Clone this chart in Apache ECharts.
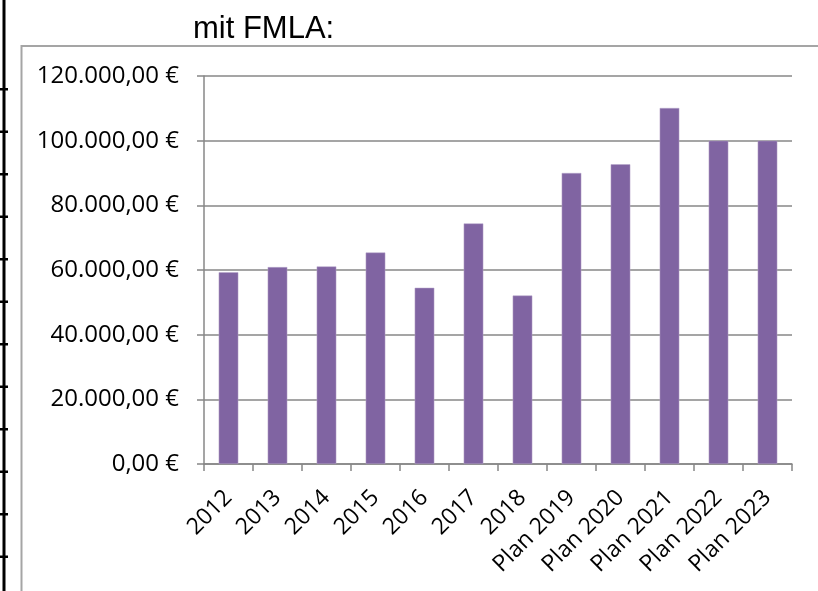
<!DOCTYPE html>
<html>
<head>
<meta charset="utf-8">
<script src="https://cdn.jsdelivr.net/npm/echarts@6/dist/echarts.min.js"></script>
<style>
  html, body { margin: 0; padding: 0; background: #fff; }
  #chart { width: 818px; height: 591px; }
</style>
</head>
<body>
<div id="chart"></div>
<script>
// Daten
var categories = ['2012', '2013', '2014', '2015', '2016', '2017', '2018',
  'Plan 2019', 'Plan 2020', 'Plan 2021', 'Plan 2022', 'Plan 2023'];
var values = [59300, 60900, 61100, 65400, 54500, 74400, 52100,
  90000, 92700, 110100, 100000, 100000];
var yTicks = [0, 20000, 40000, 60000, 80000, 100000, 120000];

// 120000 -> "120.000,00 €"
function euro(v) {
  var s = String(Math.round(v)).replace(/\B(?=(\d{3})+(?!\d))/g, '.');
  return s + ',00 €';
}

// schwarze Linie am linken Rand mit Strichen
var deco = [
  { type: 'rect', shape: { x: 2.5, y: 0, width: 3, height: 591 }, style: { fill: '#000' } }
];
for (var i = 0; i < 12; i++) {
  deco.push({ type: 'rect', shape: { x: 0, y: 88 + i * 42.5, width: 8, height: 2.5 }, style: { fill: '#000' } });
}
// Diagrammrahmen
deco.push({
  type: 'rect',
  shape: { x: 21.5, y: 46, width: 820, height: 600 },
  style: { fill: 'none', stroke: '#a5a5a5', lineWidth: 2 }
});

var chart = echarts.init(document.getElementById('chart'));
chart.setOption({
  animation: false,
  title: {
    text: 'mit FMLA:',
    left: 188,
    top: 9,
    textStyle: { fontFamily: 'Liberation Sans', fontSize: 31, fontWeight: 'normal', color: '#000' }
  },
  graphic: deco,
  grid: { left: 204, right: 26, top: 76, bottom: 127 },
  xAxis: {
    type: 'category',
    data: categories,
    axisLine: { lineStyle: { color: '#878787', width: 1.5 } },
    axisTick: { show: true, length: 7, lineStyle: { color: '#878787', width: 1.5 } },
    axisLabel: {
      rotate: 45,
      margin: 30,
      interval: 0,
      fontFamily: 'Open Sans',
      fontSize: 23,
      color: '#000'
    }
  },
  yAxis: {
    type: 'value',
    min: yTicks[0],
    max: yTicks[yTicks.length - 1],
    interval: yTicks[1] - yTicks[0],
    axisLine: { show: true, lineStyle: { color: '#878787', width: 1.5 } },
    axisTick: { show: true, length: 7, lineStyle: { color: '#878787', width: 1.5 } },
    splitLine: { lineStyle: { color: '#878787', width: 1.5 } },
    axisLabel: {
      formatter: euro,
      margin: 25,
      fontFamily: 'Open Sans',
      fontSize: 24,
      color: '#000'
    }
  },
  series: [{
    type: 'bar',
    data: values,
    barWidth: '40%',
    itemStyle: { color: '#8064a2', borderColor: '#b6a6cb', borderWidth: 0.5 }
  }]
});
</script>
</body>
</html>
